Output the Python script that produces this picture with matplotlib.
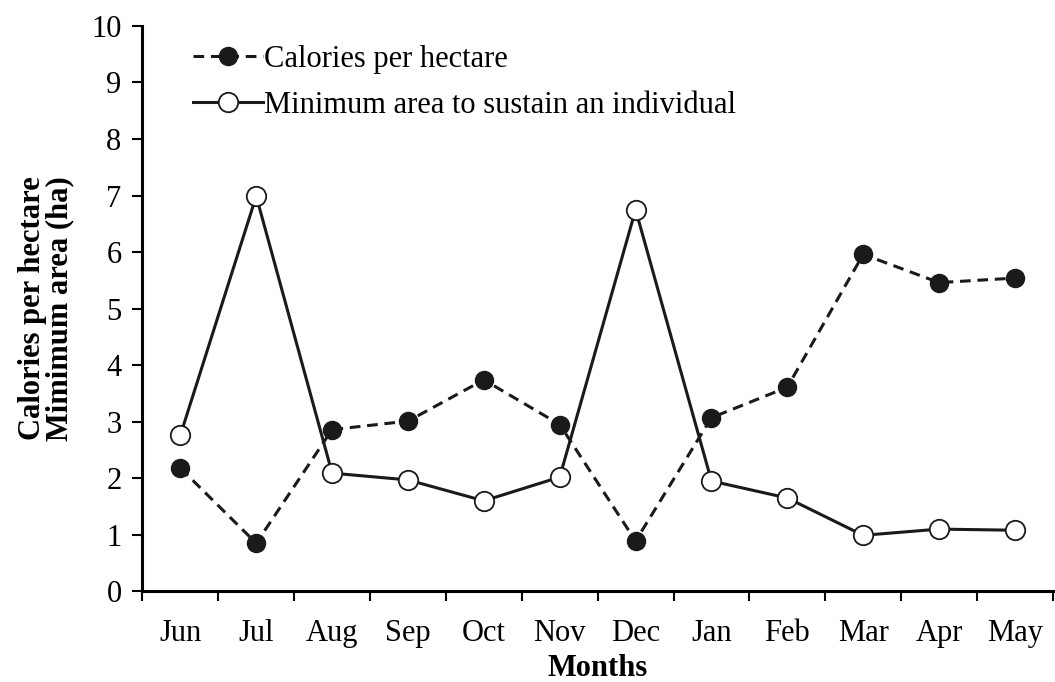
import matplotlib
matplotlib.use("Agg")
import matplotlib.pyplot as plt

months = ["Jun", "Jul", "Aug", "Sep", "Oct", "Nov", "Dec", "Jan", "Feb", "Mar", "Apr", "May"]
calories = [2.18, 0.85, 2.86, 3.01, 3.74, 2.95, 0.89, 3.07, 3.61, 5.96, 5.46, 5.54]
min_area = [2.76, 6.99, 2.09, 1.97, 1.60, 2.02, 6.75, 1.95, 1.65, 0.99, 1.10, 1.08]

plt.rcParams['font.family'] = ['Liberation Serif', 'DejaVu Serif']

fig = plt.figure(figsize=(10.55, 6.82), dpi=100)
ax = fig.add_axes([0.135, 0.133, 0.863, 0.829])

x = list(range(len(months)))
ax.plot(x, calories, color='#1a1a1a', linewidth=2.2, dashes=(3.5, 2.2), marker='o',
        markersize=13, markerfacecolor='#1a1a1a', markeredgecolor='#1a1a1a',
        label="Calories per hectare")
ax.plot(x, min_area, color='#1a1a1a', linewidth=2.2, marker='o', markersize=14,
        markerfacecolor='white', markeredgecolor='#1a1a1a', markeredgewidth=1.3,
        label="Minimum area to sustain an individual")

ax.set_xlim(-0.5, len(months) - 0.5)
ax.set_ylim(0, 10)
ax.set_yticks(range(0, 11))
ax.set_xticks(x)
ax.set_xticklabels(months)
ax.set_xticks([i - 0.5 for i in range(len(months) + 1)], minor=True)
ax.tick_params(axis='x', which='major', length=0, labelsize=22, pad=20)
ax.tick_params(axis='x', which='minor', length=7, width=1.5, direction='out')
ax.tick_params(axis='y', labelsize=22, length=7, width=1.5, direction='out', pad=8)

for s in ['top', 'right']:
    ax.spines[s].set_visible(False)
for s in ['left', 'bottom']:
    ax.spines[s].set_linewidth(2.2)

ax.set_xlabel("Months", fontsize=22, fontweight='bold', labelpad=4)
ax.set_ylabel("Calories per hectare\nMimimum area (ha)", fontsize=22, fontweight='bold',
              labelpad=12, linespacing=0.95)

ax.legend(loc='upper left', bbox_to_anchor=(0.025, 1.015), frameon=False, fontsize=22,
          handlelength=2.3, handletextpad=0.05, labelspacing=0.55)

fig.savefig("out.png", dpi=100)
